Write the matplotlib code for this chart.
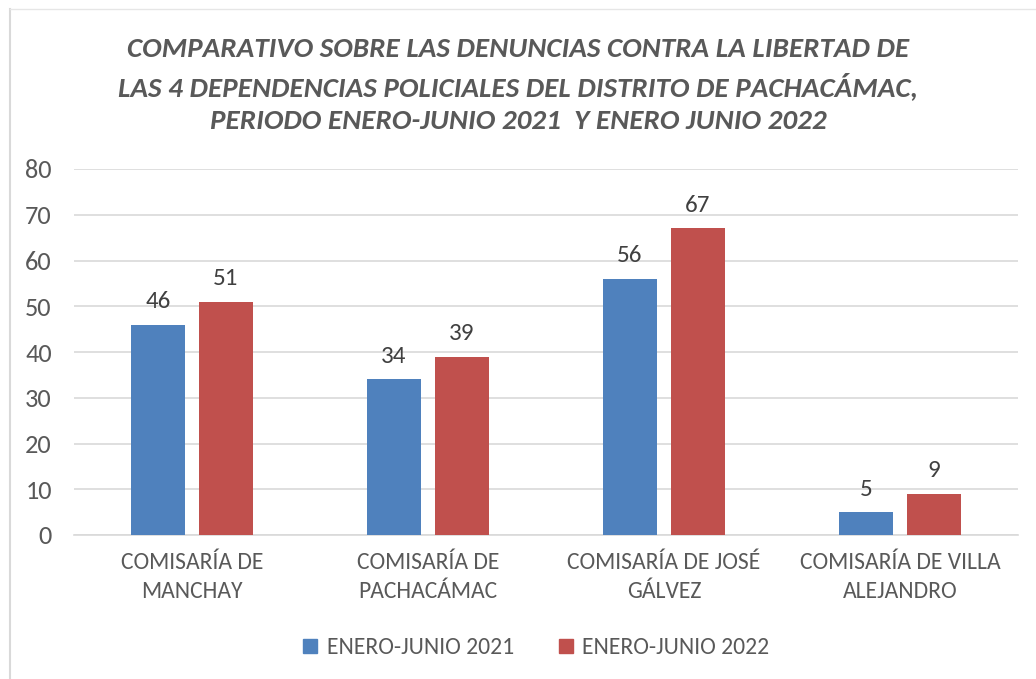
import matplotlib
matplotlib.use("Agg")
import matplotlib.pyplot as plt
from matplotlib.lines import Line2D
from matplotlib.font_manager import fontManager
import numpy as np

categories = ["COMISARÍA DE\nMANCHAY", "COMISARÍA DE\nPACHACÁMAC",
              "COMISARÍA DE JOSÉ\nGÁLVEZ", "COMISARÍA DE VILLA\nALEJANDRO"]
series_names = ["ENERO-JUNIO 2021", "ENERO-JUNIO 2022"]
values_2021 = [46, 34, 56, 5]
values_2022 = [51, 39, 67, 9]
yticks = [0, 10, 20, 30, 40, 50, 60, 70, 80]

names = {f.name for f in fontManager.ttflist}
fam = [f for f in ["Carlito", "Liberation Sans Narrow", "Open Sans", "DejaVu Sans"] if f in names]
plt.rcParams['font.family'] = fam

blue = "#4F81BD"
red = "#C0504D"
txt = "#595959"

fig = plt.figure(figsize=(10.36, 6.79), dpi=100)
ax = fig.add_axes([74/1036, 1-535/679, (1018-74)/1036, (535-169)/679])

x = np.arange(len(categories))
w = 0.229
off = 0.144
b1 = ax.bar(x - off, values_2021, w, color=blue, label=series_names[0], zorder=3)
b2 = ax.bar(x + off, values_2022, w, color=red, label=series_names[1], zorder=3)

for bars in (b1, b2):
    for r in bars:
        ax.annotate(f"{int(r.get_height())}", (r.get_x() + r.get_width()/2, r.get_height()),
                    xytext=(0, 9), textcoords="offset points", ha="center", va="bottom",
                    fontsize=18, color="#404040")

ax.set_xlim(-0.5, len(categories) - 0.5)
ax.set_ylim(0, 80)
ax.set_yticks(yticks)
ax.set_xticks(x)
ax.set_xticklabels(categories, fontsize=17, color=txt, linespacing=1.5)
ax.tick_params(axis='y', labelsize=19, labelcolor=txt, length=0, pad=16)
ax.tick_params(axis='x', length=0, pad=12)
ax.grid(axis='y', color="#D9D9D9", linewidth=1.2, zorder=0)
for s in ["top", "right", "left"]:
    ax.spines[s].set_visible(False)
ax.spines["bottom"].set_color("#D9D9D9")
ax.spines["bottom"].set_linewidth(1.2)

fig.text(0.5, 1-85/679,
         "COMPARATIVO SOBRE LAS DENUNCIAS CONTRA LA LIBERTAD DE\n"
         "LAS 4 DEPENDENCIAS POLICIALES DEL DISTRITO DE PACHACÁMAC,\n"
         "PERIODO ENERO-JUNIO 2021  Y ENERO JUNIO 2022",
         ha="center", va="center", fontsize=21, fontweight="bold", fontstyle="italic",
         color=txt, linespacing=1.45)

handles = [Line2D([], [], marker='s', linestyle='none', markersize=10.5, color=blue),
           Line2D([], [], marker='s', linestyle='none', markersize=10.5, color=red)]
fig.legend(handles, series_names, loc="center", bbox_to_anchor=(535/1036, 1-648/679),
           ncol=2, frameon=False, fontsize=17, labelcolor=txt, handlelength=0.8,
           handletextpad=0.3, columnspacing=1.8)

fig.add_artist(Line2D([10/1036, 10/1036], [0, 1-9/679], color="#D9D9D9", linewidth=1.5,
                      transform=fig.transFigure))
fig.add_artist(Line2D([10/1036, 1], [1-9/679, 1-9/679], color="#E6E6E6", linewidth=1.0,
                      transform=fig.transFigure))

fig.savefig("out.png", dpi=100, facecolor="white")
